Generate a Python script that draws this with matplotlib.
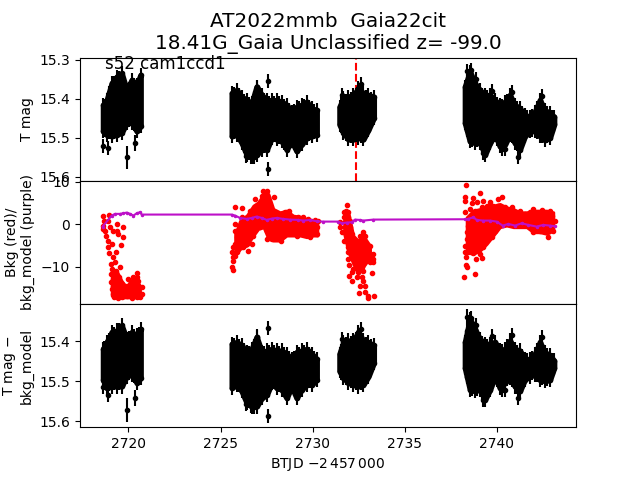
import numpy as np
import matplotlib
matplotlib.use("Agg")
import matplotlib.pyplot as plt

# Envelope of the dense photometry clouds (time, upper and lower mag, T mag and detrended)
seg_t = [
 [2718.62,2718.82,2719.09,2719.36,2719.63,2719.90,2720.18,2720.45,2720.66],
 [2725.61,2725.88,2726.15,2726.42,2726.69,2726.96,2727.24,2727.51,2727.78,2728.05,2728.32,2728.59,2728.86,2729.13,2729.40,2729.68,2729.95,2730.22],
 [2731.46,2731.67,2731.94,2732.21,2732.48,2732.75,2733.03,2733.32],
 [2738.27,2738.54,2738.81,2739.08,2739.36,2739.63,2739.90,2740.17,2740.44,2740.71,2740.98,2741.25,2741.52,2741.79,2742.07,2742.34,2742.61,2742.88,2743.11],
]
tmag_hi = [
 [15.416,15.404,15.361,15.344,15.335,15.378,15.352,15.365,15.339],
 [15.386,15.378,15.395,15.404,15.412,15.369,15.391,15.404,15.404,15.404,15.408,15.416,15.433,15.421,15.416,15.408,15.425,15.429],
 [15.421,15.399,15.395,15.391,15.374,15.386,15.391,15.395],
 [15.369,15.331,15.361,15.378,15.391,15.391,15.404,15.416,15.408,15.391,15.416,15.425,15.442,15.446,15.433,15.404,15.429,15.438,15.446],
]
tmag_lo = [
 [15.483,15.492,15.496,15.492,15.487,15.462,15.462,15.483,15.470],
 [15.496,15.492,15.513,15.543,15.550,15.543,15.530,15.530,15.500,15.504,15.509,15.530,15.509,15.534,15.517,15.500,15.496,15.492],
 [15.466,15.487,15.504,15.504,15.500,15.504,15.479,15.449],
 [15.462,15.509,15.513,15.513,15.543,15.513,15.492,15.522,15.517,15.492,15.513,15.530,15.496,15.483,15.483,15.496,15.506,15.500,15.466],
]
dmag_hi = [
 [15.420,15.403,15.378,15.374,15.361,15.395,15.378,15.386,15.370],
 [15.407,15.403,15.411,15.428,15.420,15.390,15.428,15.424,15.420,15.424,15.424,15.432,15.445,15.428,15.424,15.420,15.432,15.445],
 [15.432,15.403,15.399,15.399,15.378,15.399,15.403,15.411],
 [15.403,15.345,15.370,15.395,15.407,15.407,15.403,15.424,15.420,15.399,15.420,15.424,15.445,15.445,15.432,15.403,15.428,15.436,15.449],
]
dmag_lo = [
 [15.496,15.517,15.513,15.513,15.513,15.488,15.484,15.504,15.492],
 [15.517,15.509,15.525,15.554,15.563,15.563,15.542,15.534,15.504,15.517,15.521,15.542,15.513,15.542,15.521,15.509,15.509,15.496],
 [15.475,15.492,15.504,15.509,15.513,15.509,15.488,15.454],
 [15.467,15.521,15.525,15.521,15.546,15.521,15.488,15.517,15.504,15.492,15.513,15.525,15.496,15.488,15.484,15.496,15.500,15.497,15.467],
]
mag_err = 0.018

# In-between points that make the comb along the cloud edges
comb_t = [
 2718.68,2718.95,2719.22,2719.49,2719.76,2720.04,2720.31,2720.58,
 2725.74,2726.01,2726.28,2726.55,2726.82,2727.10,2727.37,2727.64,2727.91,2728.18,2728.45,2728.72,2728.99,2729.26,2729.54,2729.81,2730.08,
 2731.53,2731.80,2732.07,2732.34,2732.61,2732.88,2733.16,
 2738.40,2738.67,2738.94,2739.22,2739.49,2739.76,2740.03,2740.30,2740.57,2740.84,2741.11,2741.38,2741.65,2741.93,2742.20,2742.47,2742.74,2743.01,
]
comb_thi = [
 15.418,15.385,15.360,15.348,15.365,15.375,15.366,15.360,
 15.388,15.392,15.405,15.414,15.398,15.388,15.403,15.410,15.410,15.412,15.418,15.430,15.432,15.424,15.418,15.422,15.432,
 15.415,15.405,15.400,15.390,15.388,15.395,15.400,
 15.355,15.352,15.375,15.390,15.396,15.402,15.415,15.418,15.405,15.408,15.425,15.438,15.448,15.444,15.424,15.420,15.438,15.448,
]
comb_tlo = [
 15.480,15.486,15.484,15.480,15.465,15.455,15.465,15.468,
 15.485,15.492,15.520,15.538,15.538,15.528,15.522,15.506,15.494,15.498,15.512,15.510,15.512,15.516,15.500,15.490,15.486,
 15.470,15.490,15.496,15.494,15.496,15.484,15.458,
 15.480,15.505,15.505,15.522,15.522,15.495,15.502,15.512,15.498,15.496,15.515,15.505,15.482,15.480,15.484,15.495,15.496,15.478,
]
comb_dhi = [
 15.418,15.398,15.384,15.372,15.385,15.392,15.388,15.382,
 15.410,15.412,15.424,15.430,15.412,15.415,15.430,15.428,15.428,15.430,15.434,15.444,15.442,15.432,15.428,15.432,15.444,
 15.425,15.408,15.405,15.395,15.395,15.407,15.412,
 15.375,15.362,15.388,15.405,15.412,15.410,15.418,15.426,15.414,15.414,15.428,15.438,15.448,15.442,15.422,15.420,15.436,15.448,
]
comb_dlo = [
 15.500,15.507,15.505,15.505,15.492,15.480,15.486,15.490,
 15.505,15.508,15.530,15.548,15.555,15.542,15.528,15.510,15.502,15.510,15.522,15.520,15.518,15.522,15.506,15.500,15.494,
 15.478,15.491,15.500,15.503,15.503,15.490,15.464,
 15.490,15.518,15.518,15.528,15.528,15.500,15.496,15.505,15.494,15.496,15.515,15.503,15.484,15.480,15.484,15.492,15.494,15.478,
]

# Isolated points
tout_t = [2718.64,2718.91,2719.92,2720.38,2727.60,2727.60,2726.39,2726.63,2726.81,2727.00,2732.61,2731.58,2739.27,2741.17,2738.36,2738.58,2738.87,2742.47,2740.81,2739.76,2740.27,2740.45]
tout_m = [15.522,15.527,15.550,15.514,15.356,15.580,15.546,15.550,15.550,15.370,15.362,15.390,15.539,15.548,15.330,15.326,15.350,15.394,15.384,15.381,15.528,15.528]
dout_t = [2718.64,2718.91,2719.92,2720.38,2727.60,2727.60,2726.39,2726.63,2726.81,2727.00,2732.61,2731.58,2738.36,2738.58,2738.87,2739.27,2741.17,2742.47,2740.81,2739.76,2740.27,2740.45]
dout_m = [15.514,15.535,15.572,15.543,15.367,15.587,15.556,15.562,15.564,15.389,15.371,15.396,15.339,15.343,15.360,15.547,15.542,15.391,15.385,15.387,15.522,15.522]
out_err = [0.018,0.018,0.03,0.02,0.018,0.018,0.018,0.018,0.018,0.018,0.018,0.018,0.018,0.018,0.018,0.018,0.018,0.018,0.018,0.018,0.018,0.018]

# Background (red): individual points
bkg_t = [
 2718.64,2718.68,2718.64,2718.60,2718.96,2718.91,2718.73,2718.78,2719.00,2719.18,2719.36,2719.40,2719.73,2719.45,2719.69,2718.91,2719.09,2719.58,2718.91,2719.33,2718.96,2719.15,2719.04,2719.27,2719.54,2719.09,2719.33,2719.04,2719.36,2719.15,2719.51,2719.04,2719.33,2719.63,2719.09,2719.36,2719.73,2719.18,2719.51,2719.24,2719.63,2719.91,2719.82,2720.00,2720.18,2720.45,2720.27,2720.54,2720.09,2720.36,2720.72,2720.00,2720.27,2720.54,2720.72,2720.18,2720.45,2720.63,2719.18,2719.45,2719.63,2719.91,2720.09,2720.36,2720.60,2719.73,2719.45,2720.45,
 2725.66,2725.61,2725.70,2725.66,2725.79,2725.61,2725.88,2725.70,2725.97,2725.79,2726.06,2726.24,2726.51,2726.42,2726.69,2725.88,2726.15,2726.33,2726.60,2726.78,2725.79,2726.06,2726.42,2726.69,2725.79,2726.06,2726.33,2726.60,2726.87,2727.14,2726.15,2726.42,2726.69,2726.96,2727.24,2725.79,2726.15,2726.60,2726.87,2727.14,2727.42,2726.87,2727.14,2727.42,2727.69,2727.29,2727.51,2727.24,2727.60,2727.90,2727.78,2728.05,2728.32,2728.74,2728.50,2727.51,2727.78,2728.05,2728.41,2728.68,2728.95,2729.23,2729.50,2729.77,2730.13,2730.31,2727.51,2727.78,2728.05,2728.32,2728.59,2728.86,2729.13,2729.41,2729.68,2729.95,2730.26,2727.51,2727.78,2728.05,2728.27,2728.41,2728.68,2729.13,2729.50,2729.86,2730.26,2728.95,2729.32,2729.68,2730.04,2727.87,2727.24,2728.23,2728.59,
 2731.89,2731.82,2731.71,2731.94,2731.71,2731.94,2731.49,2731.76,2732.03,2731.49,2731.76,2732.03,2731.58,2731.85,2732.12,2732.72,2732.57,2732.84,2731.71,2731.94,2732.21,2732.48,2732.75,2731.94,2732.21,2732.48,2732.84,2733.12,2731.94,2732.21,2732.48,2732.75,2733.03,2733.30,2731.94,2732.21,2732.66,2733.12,2733.30,2732.00,2732.30,2732.72,2733.12,2733.30,2732.21,2732.66,2732.12,2732.48,2732.75,2733.21,2732.00,2732.39,2732.66,2732.12,2732.75,2732.57,2732.84,2732.54,2732.84,2733.03,2733.35,2733.03,
 2738.33,2738.29,2738.29,2738.72,2739.09,2738.63,2738.90,2739.27,2740.26,2740.08,2739.63,2738.29,2738.54,2738.81,2739.18,2739.45,2739.81,2740.08,2740.44,2740.80,2741.26,2741.98,2742.44,2742.89,2738.45,2738.72,2739.09,2739.45,2739.81,2740.17,2740.53,2740.80,2741.17,2741.53,2741.80,2742.16,2742.53,2742.98,2738.45,2738.81,2739.27,2739.63,2739.99,2740.44,2740.90,2741.26,2741.62,2741.98,2742.35,2742.71,2743.16,2738.36,2738.72,2739.18,2739.63,2739.90,2740.80,2741.26,2741.98,2742.35,2742.80,2743.07,2741.62,2741.98,2742.35,2742.71,2738.36,2738.63,2739.00,2739.36,2739.72,2738.27,2738.54,2738.91,2739.27,2738.27,2738.45,2738.72,2739.09,2738.33,2738.87,2739.18,2738.33,2738.36,2738.83,2738.24,
]
bkg_v = [
 2.04,0.87,-0.31,-1.09,2.28,0.87,-1.48,-2.66,-0.70,-1.48,0.08,-1.48,-0.54,-2.27,-3.05,-3.84,-4.62,-4.85,-5.40,-6.58,-6.82,-7.76,-9.32,-8.93,-10.11,-10.50,-10.89,-11.68,-12.07,-12.85,-12.46,-13.64,-14.03,-14.03,-15.20,-15.60,-14.81,-16.38,-16.38,-17.16,-17.00,-16.77,-15.60,-12.85,-14.03,-11.52,-12.46,-13.24,-15.20,-14.81,-14.65,-16.38,-16.38,-15.99,-16.38,-17.32,-17.16,-17.16,-14.42,-14.81,-15.60,-14.42,-16.38,-15.99,-14.81,-16.77,-17.32,-12.46,
 -10.74,-9.95,-8.54,-7.76,-7.36,-6.58,-6.58,-5.40,-5.80,-4.62,-5.01,-5.40,-6.19,-4.62,-4.62,-3.05,-3.84,-3.05,-3.05,-2.66,-1.48,-1.88,-1.48,-1.48,0.08,-0.31,0.08,0.08,-0.70,-0.70,1.65,1.65,1.65,1.26,1.65,4.00,3.85,3.22,3.22,3.22,3.22,5.96,5.18,4.79,4.00,7.92,7.92,6.75,6.36,6.36,2.44,2.44,2.44,3.22,2.83,0.87,0.08,0.87,0.87,1.26,1.26,1.81,1.65,1.26,1.02,0.87,-1.48,-1.48,-1.09,-0.70,-0.70,-0.31,-0.31,-0.31,-0.31,-0.31,-0.70,-3.44,-3.44,-2.66,-3.99,-2.66,-1.88,-2.66,-1.88,-3.05,-2.27,-1.48,-1.48,-1.88,-1.88,-2.27,0.48,0.08,0.48,
 4.63,3.22,2.83,2.83,1.65,1.65,0.48,0.48,0.87,-0.70,-0.70,-0.70,-1.88,-2.27,-2.27,-1.88,-2.66,-2.66,-3.84,-3.84,-3.44,-3.84,-3.84,-5.40,-5.01,-5.40,-5.01,-5.01,-6.58,-6.58,-6.58,-6.58,-6.19,-6.97,-8.15,-7.76,-7.76,-7.76,-8.15,-9.48,-9.32,-8.93,-8.93,-8.93,-10.50,-10.11,-11.28,-11.28,-10.89,-11.44,-12.22,-12.46,-12.46,-13.24,-13.24,-14.42,-14.42,-16.14,-15.99,-16.77,-16.77,-17.32,
 9.10,6.51,5.57,6.20,7.30,4.94,5.18,5.42,6.36,5.96,5.18,2.83,3.61,3.22,4.00,4.40,4.40,4.40,4.00,4.16,3.22,3.61,3.38,3.22,1.26,1.65,2.04,2.44,2.44,2.44,2.44,2.44,2.44,2.44,2.83,2.59,2.44,2.04,-0.31,-0.31,-0.70,-0.31,0.48,1.26,1.26,1.26,1.26,1.65,1.26,1.26,0.87,-1.88,-1.88,-2.27,-2.27,-1.48,0.08,0.08,-1.88,-1.48,-2.90,-1.48,0.08,0.08,-0.31,-0.31,-3.44,-3.44,-3.84,-3.44,-3.05,-5.01,-5.01,-5.01,-5.40,-6.58,-6.58,-6.82,-6.97,-7.76,-8.15,-7.99,-9.48,-9.95,-11.68,-12.30,
]

# Background (red): envelope of the parts where the points merge
core_t = [
 [2719.09,2719.36,2719.63,2719.91,2720.09,2720.36,2720.63],
 [2725.79,2726.06,2726.42,2726.78,2727.05,2727.33,2727.60,2727.87,2728.23,2728.59,2728.95,2729.32,2729.68,2730.04,2730.26],
 [2731.71,2731.94,2732.21,2732.48,2732.75,2733.12],
 [2738.36,2738.72,2739.09,2739.45,2739.81,2740.17,2740.53,2740.90,2741.26,2741.62,2741.98,2742.35,2742.71,2743.07],
]
core_hi = [
 [-10.89,-10.89,-13.24,-14.81,-13.24,-12.46,-14.42],
 [-2.27,0.87,2.04,4.40,5.18,7.14,7.14,3.61,2.83,3.22,2.04,1.81,1.26,1.02,0.87],
 [2.83,2.83,-2.66,-3.84,-2.66,-5.01],
 [1.65,3.22,3.61,4.40,4.40,4.79,4.00,3.61,2.83,2.83,3.22,3.22,3.22,2.83],
]
core_lo = [
 [-16.77,-17.16,-17.16,-17.16,-17.16,-17.16,-16.77],
 [-7.36,-5.80,-5.01,-2.66,-1.09,-0.70,-3.44,-3.84,-3.84,-2.66,-2.66,-2.66,-3.05,-2.66,-2.66],
 [-2.27,-6.58,-9.32,-11.68,-10.00,-7.76],
 [-6.58,-6.97,-6.19,-4.62,-2.66,-0.70,-0.31,-0.70,-0.70,-0.70,-1.88,-1.88,-2.27,-1.48],
]

# bkg_model (purple)
model_t = [2718.60,2719.09,2719.27,2719.54,2719.73,2719.91,2720.09,2720.27,2720.45,2720.63,2720.72,2725.61,2725.79,2726.06,2726.42,2726.69,2726.96,2727.24,2727.51,2727.78,2728.05,2728.41,2728.77,2729.23,2729.50,2729.86,2730.22,2730.58,2731.40,2731.58,2731.85,2732.12,2732.30,2732.57,2732.75,2733.30,2738.27,2738.45,2738.72,2738.91,2739.27,2739.63,2739.99,2740.32,2740.63,2740.99,2741.35,2741.71,2742.16,2742.53,2742.89,2743.16]
model_v = [-0.54,2.04,2.44,2.44,2.59,2.75,2.44,2.04,2.59,2.83,2.28,2.28,2.04,1.49,1.26,1.49,1.81,1.49,1.02,1.34,1.49,1.26,1.10,1.02,0.87,1.02,0.71,0.63,0.63,0.24,0.40,0.48,1.10,1.02,0.87,1.10,1.18,1.26,1.65,1.02,0.87,0.87,0.63,-0.31,0.08,-0.31,0.24,-0.15,-0.54,-0.15,-0.31,-0.46]

event_t = 2732.33
title_text = "AT2022mmb  Gaia22cit\n18.41G_Gaia Unclassified z= -99.0"
sector_text = "s52 cam1ccd1"
top_ticks = [15.3, 15.4, 15.5, 15.6]
mid_ticks = [-10, 0, 10]
bot_ticks = [15.4, 15.5, 15.6]
x_ticks = [2720, 2725, 2730, 2735, 2740]

fig, (ax1, ax2, ax3) = plt.subplots(3, 1, sharex=True, figsize=(6.4, 4.8), dpi=100)
fig.subplots_adjust(hspace=0)


def cloud(ax, hi, lo, chi, clo, ot, om):
    for t, h, l in zip(seg_t, hi, lo):
        ax.fill_between(t, h, l, color="k", lw=4, zorder=3)
        ax.errorbar(t, h, yerr=mag_err, fmt=".", color="k", zorder=3)
        ax.errorbar(t, l, yerr=mag_err, fmt=".", color="k", zorder=3)
    ax.errorbar(comb_t, chi, yerr=mag_err, fmt=".", color="k", zorder=3)
    ax.errorbar(comb_t, clo, yerr=mag_err, fmt=".", color="k", zorder=3)
    ax.errorbar(ot, om, yerr=out_err, fmt=".", color="k", zorder=3)


cloud(ax1, tmag_hi, tmag_lo, comb_thi, comb_tlo, tout_t, tout_m)
ax1.axvline(event_t, color="r", ls="--", zorder=2)
ax1.set_ylim(15.61, 15.295)
ax1.set_yticks(top_ticks)
ax1.set_ylabel("T mag")
ax1.text(0.05, 0.875, sector_text, transform=ax1.transAxes, fontsize=12, va="bottom", ha="left", zorder=5)
ax1.set_title(title_text, fontsize=14.4)

for t, h, l in zip(core_t, core_hi, core_lo):
    ax2.fill_between(t, h, l, color="r", lw=2, zorder=2)
ax2.plot(bkg_t, bkg_v, ".", color="r", zorder=2)
ax2.plot(model_t, model_v, "-", color="#bd10c8", marker=".", ms=3, zorder=3)
ax2.set_ylim(-18.7, 10.2)
ax2.set_yticks(mid_ticks)
ax2.set_ylabel("Bkg (red)/\nbkg_model (purple)")

cloud(ax3, dmag_hi, dmag_lo, comb_dhi, comb_dlo, dout_t, dout_m)
ax3.set_ylim(15.615, 15.3075)
ax3.set_yticks(bot_ticks)
ax3.set_ylabel("T mag $-$\nbkg_model")
ax3.set_xticks(x_ticks)
ax3.set_xlim(2717.37, 2744.3)
ax3.set_xlabel("BTJD $-2\\,457\\,000$")

for ax in (ax1, ax2):
    ax.tick_params(axis="x", bottom=False)

fig.savefig("out.png", dpi=100)
